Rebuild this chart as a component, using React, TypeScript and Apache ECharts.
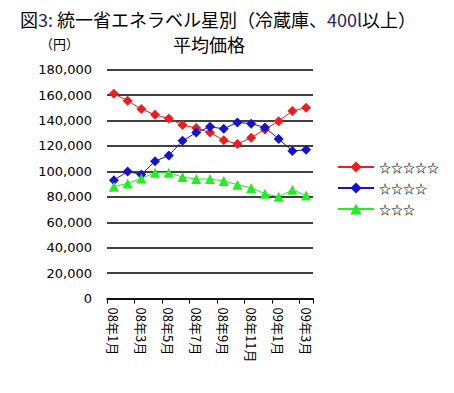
import React, { useEffect, useRef } from "react";
import * as echarts from "echarts";

const categories = [
  "08年1月", "08年2月", "08年3月", "08年4月", "08年5月", "08年6月", "08年7月", "08年8月",
  "08年9月", "08年10月", "08年11月", "08年12月", "09年1月", "09年2月", "09年3月",
];
const seriesNames = ["☆☆☆☆☆", "☆☆☆☆", "☆☆☆"];
const star5 = [161000, 155500, 149000, 144500, 141500, 136500, 134000, 130500, 124500, 121500, 126500, 133000, 139500, 147500, 150000];
const star4 = [93000, 100000, 97500, 108000, 112500, 124000, 130500, 135000, 133500, 138500, 137500, 134500, 125500, 116000, 117000];
const star3 = [88000, 90500, 94500, 99000, 99000, 95500, 94000, 94000, 92500, 89500, 87000, 82500, 80000, 85500, 81000];
const yMin = 0;
const yMax = 180000;
const yStep = 20000;

const CJK = "'Noto Sans CJK JP', sans-serif";

export default function App() {
  const ref = useRef<HTMLDivElement>(null);
  useEffect(() => {
    if (!ref.current) return;
    const chart = echarts.init(ref.current, undefined, { renderer: "svg" });
    const mk = (name: string, data: number[], color: string, symbol: string, size: number) => ({
      name,
      type: "line",
      data,
      symbol,
      symbolSize: size,
      showAllSymbol: true,
      lineStyle: { color, width: 1 },
      itemStyle: { color },
    });
    chart.setOption({
      animation: false,
      backgroundColor: "#ffffff",
      graphic: [
        {
          type: "text",
          left: 20,
          top: 10,
          style: {
            text: "図{b|3:} 統一省エネラベル星別（冷蔵庫、{b|400l}以上）",
            fontSize: 18,
            fontFamily: CJK,
            fill: "#000",
            rich: { b: { fontSize: 18, fontFamily: CJK, fill: "#2b1f5e", color: "#2b1f5e" } },
          },
        },
        {
          type: "text",
          left: 40,
          top: 37,
          style: { text: "（円）", fontSize: 13, fontFamily: CJK, fill: "#000" },
        },
        {
          type: "text",
          left: 173,
          top: 35,
          style: { text: "平均価格", fontSize: 18, fontFamily: CJK, fill: "#000" },
        },
      ],
      legend: {
        orient: "vertical",
        left: 337,
        top: 161,
        padding: 0,
        itemWidth: 36,
        itemHeight: 14,
        itemGap: 9,
        textStyle: { fontSize: 12, fontFamily: CJK, color: "#000", fontWeight: "bold" },
        data: seriesNames,
      },
      grid: { left: 107, right: 141, top: 69.6, bottom: 94.4 },
      xAxis: {
        type: "category",
        data: categories,
        boundaryGap: true,
        axisLine: { lineStyle: { color: "#000", width: 1.5 } },
        axisTick: { show: true, interval: 1, length: 5, lineStyle: { color: "#000", width: 1 } },
        axisLabel: {
          interval: 1,
          rotate: -90,
          fontSize: 13,
          fontFamily: CJK,
          color: "#000",
          margin: 9,
        },
        splitLine: { show: false },
      },
      yAxis: {
        type: "value",
        min: yMin,
        max: yMax,
        interval: yStep,
        axisLine: { show: false },
        axisTick: { show: false },
        axisLabel: {
          fontSize: 13,
          fontFamily: "'DejaVu Sans', sans-serif",
          color: "#000",
          margin: 15,
          formatter: (v: number) => v.toLocaleString("en-US"),
        },
        splitLine: { lineStyle: { color: "#000", width: 1.5 } },
      },
      series: [
        mk(seriesNames[0], star5, "#ee1c1c", "diamond", 10),
        mk(seriesNames[1], star4, "#1414c8", "diamond", 10),
        mk(seriesNames[2], star3, "#22ee22", "triangle", 10),
      ],
    });
    return () => chart.dispose();
  }, []);
  return (
    <div
      ref={ref}
      style={{ position: "absolute", left: 0, top: 0, width: 454, height: 393 }}
    />
  );
}
